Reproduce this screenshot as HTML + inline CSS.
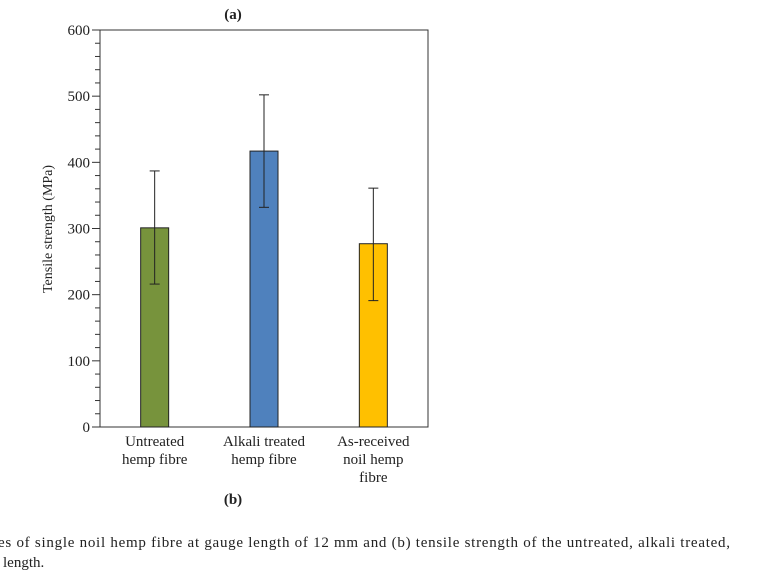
<!DOCTYPE html>
<html><head><meta charset="utf-8"><style>
html,body{margin:0;padding:0;background:#fff;}
svg{display:block;font-family:"Liberation Serif",serif;}
</style></head><body>
<svg id="chart" width="777" height="578" viewBox="0 0 777 578">
<text x="233" y="19" font-size="15" font-weight="bold" text-anchor="middle" fill="#222">(a)</text>
<text x="233" y="504" font-size="15" font-weight="bold" text-anchor="middle" fill="#222">(b)</text>
<text x="52" y="229" font-size="14" text-anchor="middle" transform="rotate(-90 52 229)" fill="#222">Tensile strength (MPa)</text>
<text x="-2" y="547" font-size="15" textLength="732" lengthAdjust="spacing" fill="#222">es of single noil hemp fibre at gauge length of 12 mm and (b) tensile strength of the untreated, alkali treated,</text>
<text x="3" y="567" font-size="15" fill="#222">length.</text>
<g id="plot"></g>
</svg>
<script>
const categories=[["Untreated","hemp fibre"],["Alkali treated","hemp fibre"],["As-received","noil hemp","fibre"]];
const values=[301,417,277];
const errLow=[216,332,191];
const errHigh=[387,502,361];
const colors=["#77933c","#4f81bd","#ffc000"];
const yTicks=[0,100,200,300,400,500,600];
const NS="http://www.w3.org/2000/svg";
const L=100,R=428,T=30,B=427,yMax=600;
const y=v=>B-(v/yMax)*(B-T);
const xc=i=>L+(R-L)*(i+0.5)/categories.length;
const g=document.getElementById('plot');
function mk(tag,attrs){const e=document.createElementNS(NS,tag);for(const k in attrs)e.setAttribute(k,attrs[k]);g.appendChild(e);return e;}
let f=mk('rect',{x:L,y:T,width:R-L,height:B-T,fill:'none',stroke:'#333','stroke-width':1});


for(let v=0;v<=yMax;v+=20){
  const major=v%100===0;
  let t=mk('line',{x1:major?L-8:L-5,x2:L,y1:y(v),y2:y(v),stroke:'#333','stroke-width':1});
  
  
}
yTicks.forEach(v=>{
  let t=mk('text',{x:L-10,y:y(v)+5,'font-size':15,'text-anchor':'end',fill:'#222'});
  t.textContent=v;
  
  
});
const bw=28;
values.forEach((v,i)=>{
  const cx=xc(i);
  let b=mk('rect',{x:cx-bw/2,y:y(v),width:bw,height:B-y(v),fill:colors[i],stroke:'#222','stroke-width':1});
  
  
  let e=mk('line',{x1:cx,x2:cx,y1:y(errHigh[i]),y2:y(errLow[i]),stroke:'#222','stroke-width':1});
  
  
  [errHigh[i],errLow[i]].forEach(ev=>{
    let c=mk('line',{x1:cx-5,x2:cx+5,y1:y(ev),y2:y(ev),stroke:'#222','stroke-width':1});
    
    
  });
  categories[i].forEach((line,j)=>{
    let t=mk('text',{x:cx,y:B+19+j*18,'font-size':15,'text-anchor':'middle',fill:'#222'});
    t.textContent=line;
    
    
  });
});
</script>
</body></html>
